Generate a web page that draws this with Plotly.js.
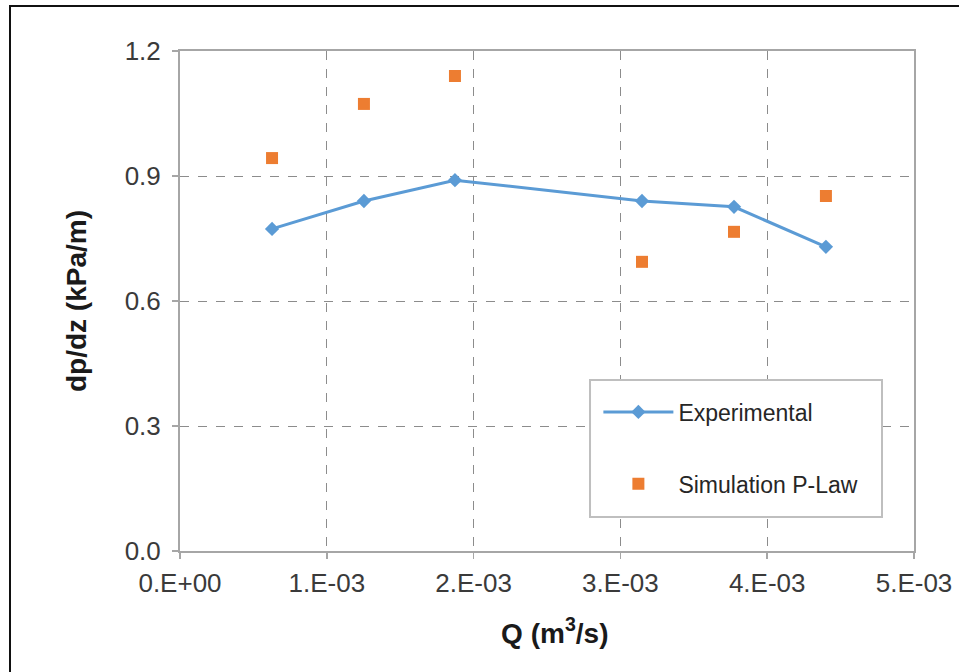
<!DOCTYPE html>
<html>
<head>
<meta charset="utf-8">
<script src="https://cdn.plot.ly/plotly-3.0.1.min.js"></script>
<style>
  html, body { margin: 0; padding: 0; background: #fff; }
  #wrap { position: relative; width: 959px; height: 672px; overflow: hidden; }
  #chart { position: absolute; left: 0; top: 0; width: 959px; height: 672px; }
  #frame { position: absolute; left: 9px; top: 5px; right: -5px; bottom: -5px;
           border-top: 2px solid #111; border-left: 2px solid #111; pointer-events: none; }
</style>
</head>
<body>
<div id="wrap">
  <div id="chart"></div>
  <div id="frame"></div>
</div>
<script>
// Flow rate Q (m^3/s)
const flowRate = [0.627e-3, 1.253e-3, 1.873e-3, 3.147e-3, 3.774e-3, 4.40e-3];
// Pressure gradient dp/dz (kPa/m)
const experimental = [0.773, 0.840, 0.890, 0.840, 0.826, 0.730];
const simulationPLaw = [0.943, 1.073, 1.140, 0.694, 0.766, 0.852];

const xTickVals = [0, 1e-3, 2e-3, 3e-3, 4e-3, 5e-3];
const xTickText = ['0.E+00', '1.E-03', '2.E-03', '3.E-03', '4.E-03', '5.E-03'];
const yTickVals = [0, 0.3, 0.6, 0.9, 1.2];
const yTickText = ['0.0', '0.3', '0.6', '0.9', '1.2'];

const narrow = "'Liberation Sans Narrow', 'Arial Narrow', 'Liberation Sans', Arial, sans-serif";
const sans = "'Liberation Sans', Arial, sans-serif";

const traces = [
  {
    x: flowRate, y: experimental, name: 'Experimental',
    type: 'scatter', mode: 'lines+markers', legendgroup: 'a',
    line: { color: '#5B9BD5', width: 3 },
    marker: { symbol: 'diamond', size: 11, color: '#5B9BD5' }
  },
  {
    x: flowRate, y: simulationPLaw, name: 'Simulation P-Law',
    type: 'scatter', mode: 'markers', legendgroup: 'b',
    marker: { symbol: 'square', size: 12, color: '#ED7D31' }
  }
];

const axisCommon = {
  showline: true, mirror: true, linecolor: '#a6a6a6', linewidth: 2,
  ticks: 'outside', ticklen: 6, tickcolor: '#a6a6a6', tickwidth: 1.5,
  showgrid: true, gridcolor: '#8c8c8c', griddash: 'dash', gridwidth: 1,
  zeroline: false,
  tickfont: { family: narrow, size: 26, color: '#3a3a3a' }
};

const layout = {
  width: 959, height: 672,
  margin: { l: 180, r: 45, t: 51, b: 121 },
  paper_bgcolor: '#fff', plot_bgcolor: '#fff',
  showlegend: true,
  xaxis: Object.assign({}, axisCommon, {
    range: [0, 5e-3], tickmode: 'array', tickvals: xTickVals, ticktext: xTickText,
    ticklabelstandoff: 2,
    title: { text: '&nbsp;&nbsp;Q (m<sup>3</sup>/s)', standoff: 26,
             font: { family: sans, size: 28, color: '#1a1a1a', weight: 'bold' } }
  }),
  yaxis: Object.assign({}, axisCommon, {
    range: [0, 1.2], tickmode: 'array', tickvals: yTickVals, ticktext: yTickText,
    ticklabelstandoff: 6,
    title: { text: 'dp/dz (kPa/m)', standoff: 30,
             font: { family: sans, size: 28, color: '#1a1a1a', weight: 'bold' } }
  }),
  shapes: [
    // legend frame
    { type: 'rect', xref: 'paper', yref: 'paper', x0: 0.5586, x1: 0.9564, y0: 0.068, y1: 0.342,
      fillcolor: '#fff', line: { color: '#bfbfbf', width: 2 }, layer: 'above' }
  ],
  legend: {
    x: 0.57, y: 0.321, xanchor: 'left', yanchor: 'top',
    bgcolor: 'rgba(0,0,0,0)', borderwidth: 0,
    font: { family: sans, size: 23, color: '#262626' },
    traceorder: 'grouped', tracegroupgap: 39,
    itemwidth: 70
  }
};

Plotly.newPlot('chart', traces, layout, { displayModeBar: false, staticPlot: true });
</script>
</body>
</html>
